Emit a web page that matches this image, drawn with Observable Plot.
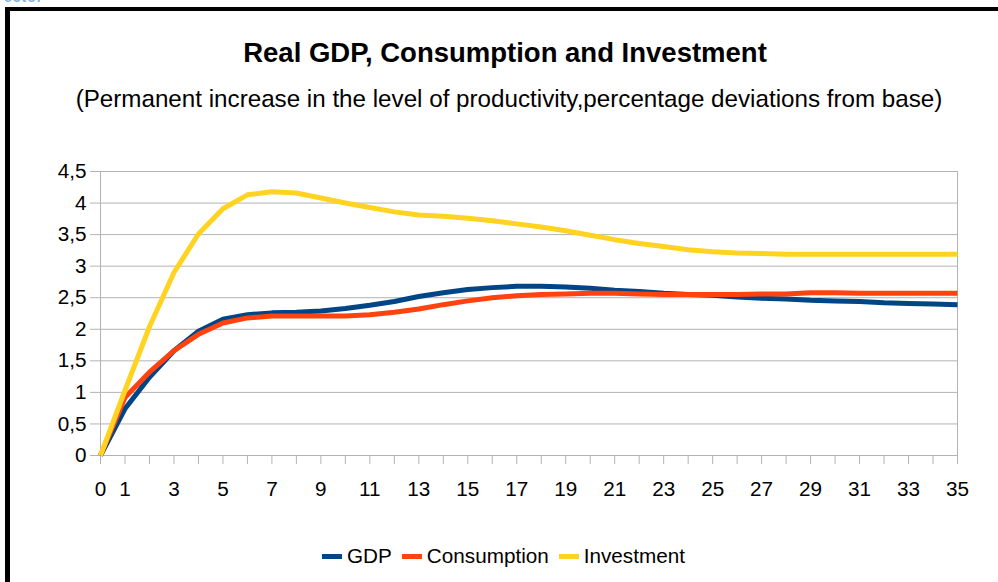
<!DOCTYPE html>
<html>
<head>
<meta charset="utf-8">
<script src="https://cdn.jsdelivr.net/npm/d3@7"></script>
<script src="https://cdn.jsdelivr.net/npm/@observablehq/plot@0.6"></script>
<style>
  html, body { margin: 0; padding: 0; background: #fff; }
  body { width: 998px; height: 582px; position: relative; overflow: hidden; font-family: "Liberation Sans", Arial, sans-serif; }
  #frame { position: absolute; left: 5px; top: 7px; width: 1000px; height: 600px; border-left: 5px solid #000; border-top: 4px solid #000; box-sizing: border-box; }
  #cut { position: absolute; left: 4px; top: -11px; font: bold 14px "Liberation Sans", sans-serif; color: #7fb2e5; letter-spacing: 1px; }
  #title { position: absolute; left: 0; width: 1010px; top: 39px; text-align: center; font-weight: bold; font-size: 27.5px; line-height: 27.5px; color: #000; white-space: nowrap; }
  #subtitle { position: absolute; left: 0; width: 1018px; top: 87px; text-align: center; font-size: 24.2px; line-height: 24px; color: #000; white-space: nowrap; }
  #chart { position: absolute; left: 0; top: 150px; }
  #legend { position: absolute; left: 322px; top: 545px; display: flex; align-items: center; font-size: 20.7px; line-height: 22px; color: #000; }
  .item { display: flex; align-items: center; margin-right: 10px; }
  .sw { width: 20px; height: 5px; margin-right: 5px; }
</style>
</head>
<body>
<div id="cut">ector</div>
<div id="frame"></div>
<div id="title">Real GDP, Consumption and Investment</div>
<div id="subtitle">(Permanent increase in the level of productivity,percentage deviations from base)</div>
<div id="chart"></div>
<div id="legend"></div>
<script>
const periods = d3.range(0, 36);
const gdp = [0, 0.74, 1.24, 1.66, 1.97, 2.16, 2.23, 2.26, 2.27, 2.29, 2.33, 2.38, 2.44, 2.52, 2.58, 2.63, 2.66, 2.68, 2.68, 2.67, 2.65, 2.62, 2.60, 2.57, 2.55, 2.54, 2.51, 2.49, 2.48, 2.46, 2.45, 2.44, 2.42, 2.41, 2.40, 2.39];
const consumption = [0, 0.92, 1.32, 1.66, 1.92, 2.10, 2.18, 2.21, 2.21, 2.21, 2.21, 2.23, 2.27, 2.32, 2.39, 2.45, 2.50, 2.53, 2.55, 2.56, 2.57, 2.57, 2.56, 2.55, 2.55, 2.55, 2.55, 2.56, 2.56, 2.58, 2.58, 2.57, 2.57, 2.57, 2.57, 2.57];
const investment = [0, 1.03, 2.04, 2.90, 3.51, 3.91, 4.13, 4.18, 4.16, 4.08, 4.00, 3.93, 3.86, 3.81, 3.79, 3.76, 3.72, 3.67, 3.62, 3.56, 3.49, 3.42, 3.36, 3.31, 3.26, 3.23, 3.21, 3.20, 3.19, 3.19, 3.19, 3.19, 3.19, 3.19, 3.19, 3.19];
const seriesNames = ["GDP", "Consumption", "Investment"];
const seriesColors = ["#004586", "#ff420e", "#ffd320"];
const yTicks = [0, 0.5, 1, 1.5, 2, 2.5, 3, 3.5, 4, 4.5];
const xLabelTicks = [0, 1, 3, 5, 7, 9, 11, 13, 15, 17, 19, 21, 23, 25, 27, 29, 31, 33, 35];

const valuesBySeries = [gdp, consumption, investment];
const rows = [];
seriesNames.forEach((name, s) => {
  periods.forEach((p, i) => rows.push({series: name, period: p, value: valuesBySeries[s][i]}));
});

const grid = "#b3b3b3";
const fmt = d => String(d).replace(".", ",");

const plot = Plot.plot({
  width: 998,
  height: 380,
  marginLeft: 100,
  marginRight: 41,
  marginTop: 21,
  marginBottom: 75,
  style: {fontFamily: "Liberation Sans, Arial, sans-serif", fontSize: "20.5px", background: "transparent", color: "#000", overflow: "visible"},
  x: {domain: [0, 35], label: null},
  y: {domain: [0, 4.5], label: null},
  color: {domain: seriesNames, range: seriesColors},
  marks: [
    Plot.gridY(yTicks, {stroke: grid, strokeOpacity: 1}),
    Plot.ruleX([0, 35], {stroke: grid}),
    Plot.axisY(yTicks, {tickSize: 10, tickPadding: 4, stroke: grid, tickFormat: fmt, label: null, fontSize: 20.7}),
    Plot.axisX(periods, {tickSize: 9, stroke: grid, tickFormat: () => "", label: null}),
    Plot.axisX(xLabelTicks, {tickSize: 0, tickPadding: 26, tickFormat: d => String(d), label: null, fontSize: 20.7}),
    Plot.line(rows, {x: "period", y: "value", z: "series", stroke: "series", strokeWidth: 5, strokeLinejoin: "round", strokeLinecap: "butt"})
  ]
});
document.getElementById("chart").appendChild(plot);

const legend = document.getElementById("legend");
seriesNames.forEach((name, i) => {
  const item = document.createElement("div");
  item.className = "item";
  const sw = document.createElement("div");
  sw.className = "sw";
  sw.style.background = seriesColors[i];
  const t = document.createElement("span");
  t.textContent = name;
  item.appendChild(sw);
  item.appendChild(t);
  legend.appendChild(item);
});
</script>
</body>
</html>
